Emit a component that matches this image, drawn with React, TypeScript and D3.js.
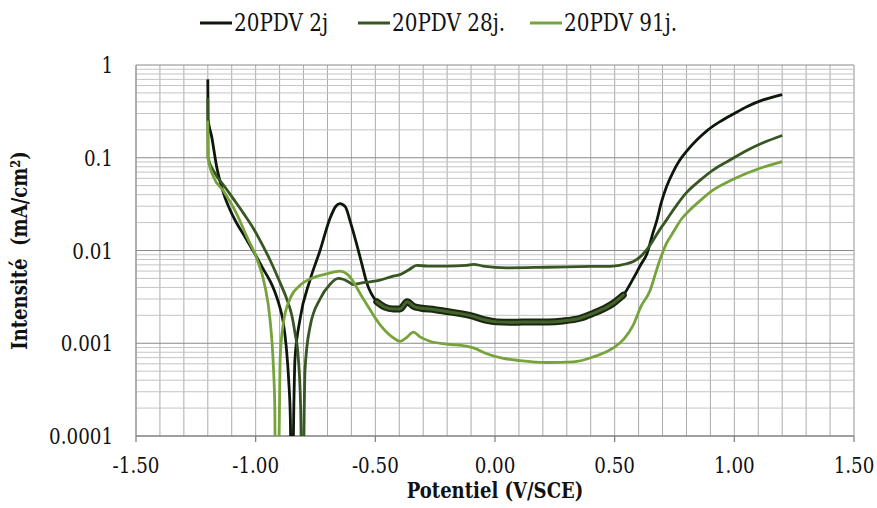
import React from "react";
import * as d3 from "d3";

// ---- data ----
const seriesNames = ["20PDV 2j", "20PDV 28j.", "20PDV 91j."];
const seriesColors = ["#0e170b", "#375623", "#77a33c"];

const v2j = [-1.2, -1.199, -1.184, -1.163, -1.135, -1.093, -1.037, -0.996, -0.97, -0.94, -0.92, -0.9, -0.885, -0.872, -0.862, -0.855, -0.852, -0.845, -0.84, -0.836, -0.815, -0.773, -0.731, -0.69, -0.665, -0.648, -0.625, -0.606, -0.578, -0.556, -0.536, -0.494, -0.46, -0.425, -0.397, -0.367, -0.34, -0.313, -0.25, -0.202, -0.15, -0.09, -0.04, 0.007, 0.08, 0.146, 0.22, 0.285, 0.355, 0.41, 0.467, 0.494, 0.536, 0.578, 0.61, 0.634, 0.661, 0.676, 0.695, 0.717, 0.745, 0.773, 0.8, 0.843, 0.89, 0.94, 1.0, 1.052, 1.12, 1.2];
const i2j = [0.7, 0.26, 0.17, 0.08, 0.042, 0.023, 0.013, 0.0085, 0.0064, 0.0047, 0.0036, 0.0025, 0.0017, 0.0009, 0.0004, 0.00015, 0.00005, 0.00005, 0.00025, 0.00066, 0.0018, 0.0048, 0.01, 0.022, 0.03, 0.032, 0.0295, 0.021, 0.0117, 0.0071, 0.0045, 0.0028, 0.00245, 0.00234, 0.00234, 0.0028, 0.0025, 0.0024, 0.0023, 0.0022, 0.0021, 0.00195, 0.00178, 0.0017, 0.00168, 0.0017, 0.0017, 0.00174, 0.00186, 0.0021, 0.00245, 0.0027, 0.0033, 0.005, 0.0071, 0.0091, 0.0158, 0.021, 0.033, 0.049, 0.071, 0.095, 0.117, 0.155, 0.2, 0.245, 0.3, 0.355, 0.42, 0.48];

const v28j = [-1.2, -1.199, -1.17, -1.13, -1.093, -1.05, -1.01, -0.968, -0.94, -0.898, -0.87, -0.849, -0.835, -0.822, -0.812, -0.808, -0.8, -0.797, -0.794, -0.773, -0.731, -0.69, -0.655, -0.635, -0.613, -0.592, -0.55, -0.522, -0.48, -0.425, -0.397, -0.36, -0.327, -0.28, -0.202, -0.12, -0.09, -0.05, 0.049, 0.216, 0.355, 0.494, 0.55, 0.578, 0.61, 0.634, 0.661, 0.69, 0.717, 0.76, 0.8, 0.86, 0.912, 0.98, 1.052, 1.12, 1.2];
const i28j = [0.44, 0.1, 0.068, 0.049, 0.036, 0.025, 0.0174, 0.011, 0.0079, 0.0045, 0.003, 0.002, 0.00126, 0.0007, 0.0002, 0.00005, 0.00005, 0.0002, 0.00051, 0.0015, 0.003, 0.0043, 0.005, 0.0049, 0.0046, 0.0043, 0.0045, 0.0046, 0.0048, 0.0053, 0.0055, 0.0062, 0.0069, 0.0068, 0.0068, 0.0069, 0.0071, 0.0068, 0.0065, 0.0066, 0.0067, 0.0068, 0.0072, 0.0076, 0.0087, 0.0102, 0.0129, 0.017, 0.0214, 0.031, 0.042, 0.058, 0.074, 0.094, 0.12, 0.145, 0.174];

const v91j = [-1.2, -1.199, -1.177, -1.135, -1.08, -1.037, -0.996, -0.961, -0.94, -0.926, -0.92, -0.918, -0.905, -0.9, -0.898, -0.885, -0.857, -0.815, -0.759, -0.703, -0.648, -0.615, -0.55, -0.48, -0.43, -0.397, -0.37, -0.341, -0.313, -0.272, -0.202, -0.12, -0.09, -0.04, 0.03, 0.104, 0.216, 0.327, 0.41, 0.494, 0.54, 0.578, 0.61, 0.648, 0.67, 0.689, 0.715, 0.745, 0.78, 0.815, 0.86, 0.912, 0.98, 1.052, 1.12, 1.2];
const i91j = [0.25, 0.1, 0.063, 0.044, 0.025, 0.0141, 0.0083, 0.0041, 0.0018, 0.00056, 0.0002, 0.00005, 0.00005, 0.00025, 0.00066, 0.0016, 0.003, 0.0042, 0.0051, 0.0056, 0.006, 0.0055, 0.003, 0.00158, 0.00117, 0.00105, 0.00115, 0.00132, 0.00117, 0.00105, 0.00098, 0.00093, 0.00089, 0.00078, 0.00069, 0.00065, 0.00062, 0.00063, 0.00071, 0.00089, 0.00112, 0.00158, 0.0025, 0.0037, 0.0056, 0.0079, 0.0117, 0.0158, 0.022, 0.0275, 0.035, 0.045, 0.056, 0.068, 0.079, 0.091];

const xTicks = [-1.5, -1.0, -0.5, 0.0, 0.5, 1.0, 1.5];
const yTicks = [0.0001, 0.001, 0.01, 0.1, 1];
const yTickLabels = ["0.0001", "0.001", "0.01", "0.1", "1"];
const noisyRange = [-0.5, 0.56];

const W = 877;
const H = 508;
const left = 136;
const right = 854;
const top = 65;
const bottom = 436;

export default function App() {
  const x = d3.scaleLinear().domain([-1.5, 1.5]).range([left, right]);
  const y = d3.scaleLog().domain([0.0001, 1]).range([bottom, top]);

  const series = [
    v2j.map((v, k) => [v, i2j[k]] as [number, number]),
    v28j.map((v, k) => [v, i28j[k]] as [number, number]),
    v91j.map((v, k) => [v, i91j[k]] as [number, number]),
  ];

  const line = d3
    .line<[number, number]>()
    .x((d) => x(d[0]))
    .y((d) => y(d[1]))
    .curve(d3.curveMonotoneX);

  const noisy = series[0].filter((d) => d[0] >= noisyRange[0] && d[0] <= noisyRange[1]);

  const vGrid = d3.range(-15, 16).map((k) => k / 10);
  const minorY: number[] = [];
  for (let e = -4; e < 0; e++) {
    for (let m = 2; m <= 9; m++) minorY.push(m * Math.pow(10, e));
  }

  const serif = "DejaVu Serif";
  const sx = 0.85;
  const legendX = [200, 358, 530];

  return (
    <svg width={W} height={H} style={{ display: "block", position: "absolute", left: 0, top: 0 }}>
      <rect x={0} y={0} width={W} height={H} fill="#ffffff" />
      <defs>
        <clipPath id="plotClip">
          <rect x={left} y={top} width={right - left} height={bottom - top} />
        </clipPath>
      </defs>
      {vGrid.map((v) => (
        <line key={"v" + v} x1={x(v)} x2={x(v)} y1={top} y2={bottom} stroke="#ababab" strokeWidth={1} />
      ))}
      {minorY.map((v) => (
        <line key={"m" + v} x1={left} x2={right} y1={y(v)} y2={y(v)} stroke="#c4c4c4" strokeWidth={1} />
      ))}
      {yTicks.map((v) => (
        <line key={"d" + v} x1={left} x2={right} y1={y(v)} y2={y(v)} stroke="#8a8a8a" strokeWidth={1} />
      ))}
      <line x1={right} x2={right} y1={top} y2={bottom} stroke="#bdbdbd" strokeWidth={1} />
      <line x1={left} x2={left} y1={top} y2={bottom} stroke="#8a8a8a" strokeWidth={1} />
      <line x1={left} x2={right} y1={bottom} y2={bottom} stroke="#7a7a7a" strokeWidth={1.2} />
      {xTicks.map((v) => (
        <line key={"t" + v} x1={x(v)} x2={x(v)} y1={bottom} y2={bottom + 6} stroke="#7a7a7a" strokeWidth={1.2} />
      ))}
      {xTicks.map((v) => (
        <text
          key={"xl" + v}
          transform={`translate(${x(v)}, 473) scale(${sx}, 1)`}
          textAnchor="middle"
          style={{ fontFamily: serif }}
          fontSize={21.5}
          fill="#111"
        >
          {v.toFixed(2)}
        </text>
      ))}
      {yTicks.map((v, k) => (
        <text
          key={"yl" + v}
          transform={`translate(113, ${y(v) + 8}) scale(${sx}, 1)`}
          textAnchor="end"
          style={{ fontFamily: serif }}
          fontSize={21.5}
          fill="#111"
        >
          {yTickLabels[k]}
        </text>
      ))}
      <g clipPath="url(#plotClip)">
        <path d={line(series[0]) || ""} fill="none" stroke={seriesColors[0]} strokeWidth={2.8} strokeLinejoin="round" />
        <path d={line(noisy) || ""} fill="none" stroke="#1a2812" strokeWidth={7} strokeLinejoin="round" strokeLinecap="round" />
        <path d={line(noisy) || ""} fill="none" stroke="#45632a" strokeWidth={3} strokeLinejoin="round" strokeLinecap="round" />
        <path d={line(series[1]) || ""} fill="none" stroke={seriesColors[1]} strokeWidth={2.8} strokeLinejoin="round" />
        <path d={line(series[2]) || ""} fill="none" stroke={seriesColors[2]} strokeWidth={2.8} strokeLinejoin="round" />
      </g>
      <text
        transform={`translate(${x(0)}, 498) scale(0.82, 1)`}
        textAnchor="middle"
        style={{ fontFamily: serif, whiteSpace: "pre" }}
        fontWeight="bold"
        fontSize={22}
        fill="#111"
      >
        {"Potentiel (V/SCE)"}
      </text>
      <text
        transform={`translate(27, ${(top + bottom) / 2}) rotate(-90) scale(0.82, 1)`}
        textAnchor="middle"
        style={{ fontFamily: serif, whiteSpace: "pre" }}
        fontWeight="bold"
        fontSize={22}
        fill="#111"
      >
        {"Intensité  (mA/cm²)"}
      </text>
      {seriesNames.map((n, k) => (
        <g key={n}>
          <line x1={legendX[k]} x2={legendX[k] + 32} y1={23} y2={23} stroke={seriesColors[k]} strokeWidth={3} />
          <text
            transform={`translate(${legendX[k] + 34}, 31) scale(${sx}, 1)`}
            style={{ fontFamily: serif }}
            fontSize={23.5}
            fill="#111"
          >
            {n}
          </text>
        </g>
      ))}
    </svg>
  );
}
